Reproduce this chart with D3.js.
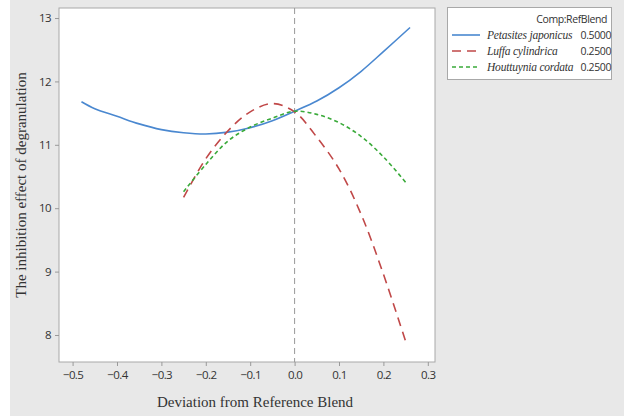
<!DOCTYPE html>
<html>
<head>
<meta charset="utf-8">
<script src="https://cdn.jsdelivr.net/npm/d3@7"></script>
<style>
body { margin: 0; background: #fff; }
svg { display: block; }
</style>
</head>
<body>
<script>
var width = 624, height = 416;

// deviation from reference blend
var xPet = [-0.48, -0.45, -0.4, -0.35, -0.3, -0.25, -0.2, -0.15, -0.1, -0.05, 0, 0.05, 0.1, 0.15, 0.2, 0.26];
var yPet = [11.68, 11.57, 11.45, 11.33, 11.24, 11.19, 11.17, 11.2, 11.27, 11.38, 11.53, 11.69, 11.9, 12.16, 12.47, 12.85];

var xLuf = [-0.25, -0.2, -0.15, -0.1, -0.05, 0, 0.05, 0.1, 0.15, 0.2, 0.25];
var yLuf = [10.17, 10.78, 11.22, 11.52, 11.65, 11.52, 11.12, 10.62, 9.9, 8.96, 7.9];

var xHou = [-0.25, -0.2, -0.15, -0.1, -0.05, 0, 0.05, 0.1, 0.15, 0.2, 0.25];
var yHou = [10.26, 10.69, 11.06, 11.28, 11.42, 11.53, 11.48, 11.35, 11.13, 10.81, 10.41];

var seriesNames = ["Petasites japonicus", "Luffa cylindrica", "Houttuynia cordata"];
var refBlend = ["0.5000", "0.2500", "0.2500"];

var xTicks = [-0.5, -0.4, -0.3, -0.2, -0.1, 0, 0.1, 0.2, 0.3];
var yTicks = [8, 9, 10, 11, 12, 13];

var svg = d3.select("body").append("svg")
    .attr("width", width)
    .attr("height", height);

svg.append("rect")
    .attr("x", 10).attr("y", 0)
    .attr("width", width - 10).attr("height", height)
    .attr("fill", "#e8e8e8");

var plot = {left: 59, top: 8, right: 435, bottom: 362};

var x = d3.scaleLinear().domain([-0.5306, 0.3162]).range([plot.left, plot.right]);
var y = d3.scaleLinear().domain([7.574, 13.158]).range([plot.bottom, plot.top]);

svg.append("rect")
    .attr("x", plot.left).attr("y", plot.top)
    .attr("width", plot.right - plot.left).attr("height", plot.bottom - plot.top)
    .attr("fill", "#fff")
    .attr("stroke", "#a8a8a8");

var xAxis = svg.append("g")
    .attr("transform", "translate(0," + plot.bottom + ")")
    .call(d3.axisBottom(x).tickValues(xTicks).tickSize(4).tickPadding(5).tickFormat(d3.format(".1f")));

var yAxis = svg.append("g")
    .attr("transform", "translate(" + plot.left + ",0)")
    .call(d3.axisLeft(y).tickValues(yTicks).tickSize(4).tickPadding(4).tickFormat(d3.format("d")));

[xAxis, yAxis].forEach(function(a){
  a.select(".domain").remove();
  a.selectAll(".tick line").attr("stroke", "#999");
  a.selectAll(".tick text")
      .attr("fill", "#333")
      .style("font-family", "'Open Sans', sans-serif")
      .style("font-size", "11.5px")
      .style("letter-spacing", "-0.6px");
});

// reference line at 0
svg.append("line")
    .attr("x1", x(0)).attr("x2", x(0))
    .attr("y1", plot.top).attr("y2", plot.bottom)
    .attr("stroke", "#999")
    .attr("stroke-width", 1)
    .attr("stroke-dasharray", "6,4");

var line = d3.line()
    .x(function(d){ return x(d[0]); })
    .y(function(d){ return y(d[1]); })
    .curve(d3.curveCatmullRom);

var series = [
  {xs: xPet, ys: yPet, color: "#4a88d0", dash: null},
  {xs: xLuf, ys: yLuf, color: "#c04848", dash: "9,6"},
  {xs: xHou, ys: yHou, color: "#3aaa3a", dash: "4,3"}
];

series.forEach(function(s){
  svg.append("path")
      .datum(d3.zip(s.xs, s.ys))
      .attr("d", line)
      .attr("fill", "none")
      .attr("stroke", s.color)
      .attr("stroke-width", 1.6)
      .attr("stroke-dasharray", s.dash);
});

// axis titles
svg.append("text")
    .attr("x", 255).attr("y", 407)
    .attr("text-anchor", "middle")
    .style("font-family", "'Liberation Serif', serif")
    .style("font-size", "15px")
    .attr("fill", "#333")
    .text("Deviation from Reference Blend");

svg.append("text")
    .attr("transform", "translate(26,185)rotate(-90)")
    .attr("text-anchor", "middle")
    .style("font-family", "'Liberation Serif', serif")
    .style("font-size", "15px")
    .attr("fill", "#333")
    .text("The inhibition effect of degranulation");

// legend
var lg = svg.append("g");
lg.append("rect")
    .attr("x", 447.5).attr("y", 7.5)
    .attr("width", 164).attr("height", 72)
    .attr("fill", "#fff")
    .attr("stroke", "#a8a8a8");

lg.append("text")
    .attr("x", 607).attr("y", 23)
    .attr("text-anchor", "end")
    .style("font-family", "'Open Sans', sans-serif")
    .style("font-size", "10.5px")
    .style("letter-spacing", "-0.4px")
    .attr("fill", "#333")
    .text("Comp:RefBlend");

var rowY = [39, 55, 71];
seriesNames.forEach(function(name, i){
  lg.append("line")
      .attr("x1", 452).attr("x2", 480)
      .attr("y1", rowY[i] - 4).attr("y2", rowY[i] - 4)
      .attr("stroke", series[i].color)
      .attr("stroke-width", 1.6)
      .attr("stroke-dasharray", series[i].dash);
  lg.append("text")
      .attr("x", 487).attr("y", rowY[i])
      .style("font-family", "'Liberation Serif', serif")
      .style("font-style", "italic")
      .style("font-size", "11.5px")
      .style("letter-spacing", "-0.2px")
      .attr("fill", "#333")
      .text(name);
  lg.append("text")
      .attr("x", 611).attr("y", rowY[i])
      .attr("text-anchor", "end")
      .style("font-family", "'Open Sans', sans-serif")
      .style("font-size", "10.5px")
      .style("letter-spacing", "-0.4px")
      .attr("fill", "#333")
      .text(refBlend[i]);
});
</script>
</body>
</html>
